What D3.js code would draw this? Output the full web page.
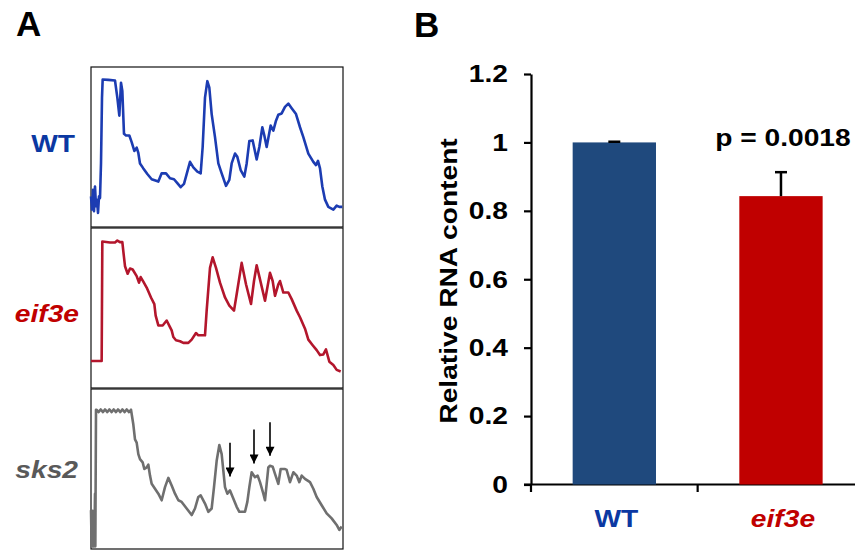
<!DOCTYPE html>
<html>
<head>
<meta charset="utf-8">
<script src="https://cdn.jsdelivr.net/npm/d3@7"></script>
<style>
  body { margin: 0; background: #fff; }
  svg { display: block; font-family: "Liberation Sans", Arial, sans-serif; font-weight: bold; }
</style>
</head>
<body>
<svg id="chart" width="855" height="550"></svg>
<script>
// ---- data ----
// panel A: polysome profiles, [gradient position, absorbance] in arbitrary units
var wtProfile = [
  [3,90],[6,50],[9,110],[12,45],[15,120],[18,60],[21,80],[24,40],[27,90],[30,85],
  [33,190],[36,390],[38,445],[55,444],[75,442],[82,390],[88,335],[93,435],[97,410],
  [102,280],[108,275],[118,275],[125,255],[133,228],[140,238],[145,222],[150,190],
  [160,175],[172,158],[185,142],[205,135],[215,160],[228,160],[240,145],[252,142],
  [262,130],[272,118],[282,128],[292,165],[300,195],[310,178],[322,165],[332,160],
  [338,240],[345,390],[352,440],[358,420],[365,340],[375,270],[385,190],[395,160],
  [408,122],[418,140],[425,190],[435,220],[442,210],[452,170],[463,150],[470,190],
  [478,258],[488,260],[500,202],[508,240],[517,300],[523,275],[530,240],[542,305],
  [550,290],[558,320],[565,338],[575,342],[585,362],[595,372],[605,358],[618,340],
  [630,300],[640,270],[655,220],[670,195],[678,185],[684,198],[690,175],[697,120],
  [705,80],[715,58],[730,50],[740,62],[748,58],[757,58]
];
var eif3eProfile = [
  [3,79],[35,79],[37,442],[60,439],[75,439],[82,445],[90,440],[97,440],[100,412],
  [105,367],[113,344],[120,360],[128,357],[140,337],[147,317],[152,334],[160,320],
  [170,302],[183,272],[193,252],[197,217],[205,187],[218,187],[230,202],[240,182],
  [245,172],[250,152],[258,142],[270,139],[280,134],[295,134],[305,144],[318,164],
  [325,157],[345,157],[350,232],[360,362],[368,394],[378,362],[390,317],[405,272],
  [418,247],[432,232],[440,282],[455,377],[468,312],[483,252],[492,322],[500,370],
  [510,327],[525,262],[540,347],[548,322],[555,277],[565,312],[570,322],[580,287],
  [595,287],[605,267],[620,232],[630,212],[645,177],[655,144],[668,127],[680,112],
  [690,97],[700,99],[708,114],[718,77],[730,67],[740,52],[752,47]
];
var sks2Profile = [
  [3,115],[5,5],[7,113],[9,5],[11,113],[13,5],[15,165],[16,5],[18,420],
  [20,420],[26,413],[32,421],[39,413],[45,421],[52,413],[58,421],[65,413],[71,421],
  [78,413],[84,421],[91,413],[97,421],[104,413],[110,421],[117,413],[123,420],
  [130,375],[135,330],[140,320],[145,285],[150,270],[158,260],[163,240],[170,245],
  [175,253],[180,220],[185,195],[195,180],[205,165],[215,145],[225,185],[235,213],
  [245,190],[255,165],[265,145],[275,140],[290,120],[305,100],[315,120],[325,155],
  [332,160],[345,135],[355,110],[365,120],[372,185],[380,265],[388,313],[395,285],
  [400,235],[405,185],[412,165],[420,175],[428,155],[440,125],[448,110],[465,110],
  [472,140],[478,185],[485,230],[495,215],[503,220],[510,200],[520,165],[525,145],
  [535,245],[540,250],[548,247],[555,225],[565,195],[572,240],[585,240],[590,237],
  [600,200],[610,230],[620,220],[628,200],[635,220],[645,210],[660,200],[670,180],
  [680,155],[695,130],[710,105],[725,90],[740,70],[748,55],[755,65]
];
// arrows on the sks2 trace: [position, tail value, tip value]
var sks2Arrows = [[420,320,217],[492,360,257],[540,382,280]];

var profileNames = ['WT', 'eif3e', 'sks2'];

// panel B: relative RNA content
var strains = ['WT', 'eif3e'];
var rnaContent = [1.0, 0.843];
var rnaError = [0.002, 0.07];
var pValueLabel = 'p = 0.0018';
var yTicks = [0, 0.2, 0.4, 0.6, 0.8, 1.0, 1.2];

// ---- layout ----
var svg = d3.select('#chart');
var boxX = [91, 343];
var boxTops = [67, 228, 389];
var boxH = 160;
var traceColors = ['#1c3cb2', '#b3162c', '#6f6f6f'];
var labelColors = ['#0b38a2', '#c00000', '#595959'];
var labelStyle = ['normal', 'italic', 'italic'];
var labelBase = [152, 322, 478];
var labelEnd = [75, 79, 78];

var profiles = [wtProfile, eif3eProfile, sks2Profile];

// widen text a bit, the figure font runs wider than Arial
function widen(sel, k) {
  sel.each(function() {
    var w = this.getComputedTextLength();
    d3.select(this).attr('textLength', w * k).attr('lengthAdjust', 'spacingAndGlyphs');
  });
}

// panel letters
svg.append('text').attr('x', 16).attr('y', 36).style('font-size', '35px').text('A');
svg.append('text').attr('x', 414).attr('y', 37).style('font-size', '35px').text('B');

// arrow head marker
svg.append('defs').append('marker')
    .attr('id', 'head')
    .attr('viewBox', '0 0 10 10')
    .attr('refX', 10).attr('refY', 5)
    .attr('markerUnits', 'userSpaceOnUse')
    .attr('markerWidth', 10).attr('markerHeight', 9)
    .attr('orient', 'auto')
  .append('path')
    .attr('d', 'M0,0L10,5L0,10Z')
    .attr('fill', '#000');

var px = d3.scaleLinear().domain([0, 765]).range([90, 345]);

profiles.forEach(function(data, i) {
  var top = boxTops[i];
  var py = d3.scaleLinear().domain([0, 480]).range([top + boxH - 1, top + 1]);
  var g = svg.append('g');

  g.append('rect')
    .attr('x', boxX[0]).attr('y', top)
    .attr('width', boxX[1] - boxX[0]).attr('height', boxH)
    .attr('fill', 'none').attr('stroke', '#111').attr('stroke-width', 1.2);

  var line = d3.line()
    .x(function(d) { return px(d[0]); })
    .y(function(d) { return py(d[1]); });

  g.append('path')
    .datum(data)
    .attr('d', line)
    .attr('fill', 'none')
    .attr('stroke', traceColors[i])
    .attr('stroke-width', 2.6)
    .attr('stroke-linejoin', 'round');

  g.append('text')
    .attr('class', 'wide')
    .attr('x', labelEnd[i]).attr('y', labelBase[i])
    .attr('text-anchor', 'end')
    .style('font-size', '24.5px')
    .style('font-style', labelStyle[i])
    .attr('fill', labelColors[i])
    .text(profileNames[i]);

  if (i === 2) {
    g.selectAll('line.arrow')
      .data(sks2Arrows)
      .enter()
      .append('line')
        .attr('class', 'arrow')
        .attr('x1', function(d) { return px(d[0]); })
        .attr('x2', function(d) { return px(d[0]); })
        .attr('y1', function(d) { return py(d[1]); })
        .attr('y2', function(d) { return py(d[2]); })
        .attr('stroke', '#000')
        .attr('stroke-width', 1.6)
        .attr('marker-end', 'url(#head)');
  }
});

// ---- panel B ----
var x = d3.scaleBand().domain(strains).range([531, 864.3]).paddingInner(0.5).paddingOuter(0.25);
var y = d3.scaleLinear().domain([0, 1.2]).range([484.5, 74]);
var barColors = ['#1f497d', '#c00000'];
var catColors = ['#0b38a2', '#c00000'];

var yAxis = svg.append('g')
  .attr('transform', 'translate(531,0)')
  .call(d3.axisLeft(y).tickValues(yTicks).tickFormat(d3.format('~g')).tickSize(7).tickSizeOuter(0).tickPadding(16));
yAxis.select('.domain').attr('stroke-width', 2.2);
yAxis.selectAll('.tick line').attr('stroke-width', 2.2);
yAxis.selectAll('.tick text')
  .attr('class', 'wide')
  .style('font-size', '24.5px')
  .style('font-family', '"Liberation Sans", Arial, sans-serif')
  .style('font-weight', 'bold')
  .attr('fill', '#000');
yAxis.attr('font-family', null).attr('font-size', null);

// x axis line and band boundary ticks
svg.append('line')
  .attr('x1', 524).attr('x2', 855)
  .attr('y1', y(0)).attr('y2', y(0))
  .attr('stroke', '#000').attr('stroke-width', 2.2);
var bounds = [x.range()[0], x('eif3e') - x.step() * 0.25, x.range()[1]];
svg.selectAll('line.xtick')
  .data(bounds)
  .enter()
  .append('line')
    .attr('class', 'xtick')
    .attr('x1', function(d) { return d; }).attr('x2', function(d) { return d; })
    .attr('y1', y(0)).attr('y2', y(0) + 7.5)
    .attr('stroke', '#000').attr('stroke-width', 2.2);

// bars
svg.selectAll('rect.bar')
  .data(strains)
  .enter()
  .append('rect')
    .attr('class', 'bar')
    .attr('x', function(d) { return x(d); })
    .attr('width', x.bandwidth())
    .attr('y', function(d, i) { return y(rnaContent[i]); })
    .attr('height', function(d, i) { return y(0) - y(rnaContent[i]); })
    .attr('fill', function(d, i) { return barColors[i]; });

// error bars (upper only)
var err = svg.append('g').attr('stroke', '#000').attr('stroke-width', 2.5);
strains.forEach(function(s, i) {
  var cx = x(s) + x.bandwidth() / 2;
  err.append('line')
    .attr('x1', cx).attr('x2', cx)
    .attr('y1', y(rnaContent[i])).attr('y2', y(rnaContent[i] + rnaError[i]));
  err.append('line')
    .attr('x1', cx - 6).attr('x2', cx + 6)
    .attr('y1', y(rnaContent[i] + rnaError[i])).attr('y2', y(rnaContent[i] + rnaError[i]));
});

// category labels
svg.selectAll('text.cat')
  .data(strains)
  .enter()
  .append('text')
    .attr('class', 'cat wide')
    .attr('x', function(d) { return x(d) + x.bandwidth() / 2 + 2; })
    .attr('y', 527)
    .attr('text-anchor', 'middle')
    .style('font-size', '24.5px')
    .style('font-style', function(d, i) { return i === 1 ? 'italic' : 'normal'; })
    .attr('fill', function(d, i) { return catColors[i]; })
    .text(function(d) { return d; });

// p value
svg.append('text')
  .attr('class', 'wide')
  .attr('x', x('eif3e') + x.bandwidth() / 2 + 2)
  .attr('y', 146)
  .attr('text-anchor', 'middle')
  .style('font-size', '24.5px')
  .text(pValueLabel);

// y axis title
svg.append('text')
  .attr('class', 'wide')
  .attr('transform', 'translate(457,281) rotate(-90)')
  .attr('text-anchor', 'middle')
  .style('font-size', '24.5px')
  .text('Relative RNA content');

widen(svg.selectAll('text.wide'), 1.15);
</script>
</body>
</html>
